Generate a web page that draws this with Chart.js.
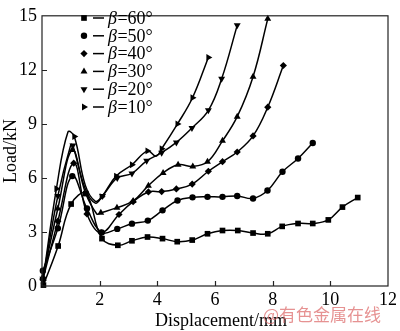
<!DOCTYPE html>
<html>
<head>
<meta charset="utf-8">
<script src="https://cdn.jsdelivr.net/npm/chart.js@4/dist/chart.umd.min.js"></script>
<style>
  html, body { margin: 0; padding: 0; background: #ffffff; }
  #wrap { width: 400px; height: 331px; }
</style>
</head>
<body>
<div id="wrap"><canvas id="c" width="400" height="331"></canvas></div>
<script>
// ---- Data ----
const xTicks = [0, 2, 4, 6, 8, 10, 12];
const yTicks = [0, 3, 6, 9, 12, 15];
const xTitle = 'Displacement/mm';
const yTitle = 'Load/kN';
const seriesAngles = ['60°', '50°', '40°', '30°', '20°', '10°'];
const watermark = '@有色金属在线';

// β = 60°
const disp60 = [0.05, 0.56, 1.01, 1.52, 2.08, 2.63, 3.12, 3.66, 4.18, 4.69, 5.21, 5.74, 6.26, 6.79, 7.32, 7.83, 8.33, 8.88, 9.39, 9.93, 10.42, 10.95];
const load60 = [0.05, 2.22, 4.55, 5.13, 2.63, 2.26, 2.51, 2.72, 2.63, 2.46, 2.55, 2.90, 3.08, 3.08, 2.94, 2.90, 3.31, 3.47, 3.47, 3.67, 4.38, 4.91];
const bare60 = [];
// β = 50°
const disp50 = [0.03, 0.55, 1.05, 1.56, 2.07, 2.61, 3.12, 3.67, 4.18, 4.70, 5.22, 5.74, 6.26, 6.77, 7.32, 7.82, 8.34, 8.88, 9.39];
const load50 = [0.85, 3.20, 6.10, 4.30, 2.97, 3.17, 3.46, 3.63, 4.20, 4.75, 4.92, 4.95, 4.95, 5.00, 4.86, 5.30, 6.34, 7.08, 7.94];
const bare50 = [];
// β = 40°
const disp40 = [0.03, 0.55, 1.10, 1.56, 2.05, 2.67, 3.16, 3.69, 4.15, 4.66, 5.21, 5.77, 6.26, 6.77, 7.32, 7.83, 8.37];
const load40 = [0.35, 3.60, 6.82, 4.00, 2.95, 3.97, 4.68, 5.22, 5.24, 5.39, 5.66, 6.37, 6.90, 7.44, 8.33, 9.93, 12.24];
const bare40 = [];
// β = 30°
const disp30 = [0.03, 0.55, 1.05, 1.50, 1.90, 2.04, 2.60, 3.16, 3.69, 4.20, 4.72, 5.23, 5.74, 6.26, 6.77, 7.32, 7.83];
const load30 = [0.50, 4.30, 7.55, 5.20, 4.00, 4.06, 4.35, 4.72, 5.57, 6.28, 6.73, 6.64, 6.90, 8.06, 9.40, 11.62, 14.83];
const bare30 = [3, 4];
// β = 20°
const disp20 = [0.03, 0.55, 1.00, 1.07, 1.50, 1.85, 2.10, 2.61, 3.12, 3.63, 4.15, 4.66, 5.20, 5.77, 6.23, 6.77];
const load20 = [0.40, 5.00, 7.85, 7.80, 5.40, 4.60, 5.00, 6.00, 6.25, 6.95, 7.40, 7.97, 8.77, 9.75, 11.50, 14.47];
const bare20 = [2, 4, 5];
// β = 10°
const disp10 = [0.03, 0.50, 0.90, 1.12, 1.50, 1.85, 2.07, 2.57, 3.12, 3.66, 3.95, 4.15, 4.70, 5.22, 5.77];
const load10 = [0.30, 5.40, 8.55, 8.30, 5.60, 4.70, 4.95, 6.10, 6.73, 7.50, 7.20, 7.62, 9.00, 10.45, 12.69];
const bare10 = [2, 4, 5, 10];

// ---- Styles ----
const serif = '"Liberation Serif", "DejaVu Serif", serif';
const marks = [
  { style: 'rect', rot: 0, r: 4 },
  { style: 'circle', rot: 0, r: 3.2 },
  { style: 'rectRot', rot: 0, r: 3.6 },
  { style: 'triangle', rot: 0, r: 4 },
  { style: 'triangle', rot: 180, r: 4 },
  { style: 'triangle', rot: 90, r: 4 }
];
const series = [
  [disp60, load60, bare60], [disp50, load50, bare50], [disp40, load40, bare40],
  [disp30, load30, bare30], [disp20, load20, bare20], [disp10, load10, bare10]
];

const datasets = series.map(([xs, ys, bare], i) => ({
  label: 'β=' + seriesAngles[i],
  data: xs.map((x, k) => ({ x: x, y: ys[k] })),
  borderColor: '#000',
  backgroundColor: '#000',
  borderWidth: 1.5,
  tension: 0.4,
  pointStyle: marks[i].style,
  rotation: marks[i].rot,
  pointRadius: ctx => bare.includes(ctx.dataIndex) ? 0 : marks[i].r,
  pointBorderWidth: 0,
  pointBackgroundColor: '#000',
  clip: false
}));

function drawMark(ctx, m, x, y) {
  const r = m.r;
  ctx.save();
  ctx.translate(x, y);
  ctx.rotate(m.rot * Math.PI / 180);
  ctx.fillStyle = '#000';
  ctx.beginPath();
  if (m.style === 'rect') {
    const s = r * Math.SQRT1_2;
    ctx.rect(-s, -s, 2 * s, 2 * s);
  } else if (m.style === 'circle') {
    ctx.arc(0, 0, r, 0, Math.PI * 2);
  } else if (m.style === 'rectRot') {
    ctx.moveTo(0, -r); ctx.lineTo(r, 0); ctx.lineTo(0, r); ctx.lineTo(-r, 0); ctx.closePath();
  } else {
    ctx.moveTo(0, -r); ctx.lineTo(r * 0.87, r * 0.5); ctx.lineTo(-r * 0.87, r * 0.5); ctx.closePath();
  }
  ctx.fill();
  ctx.restore();
}

const framePlugin = {
  id: 'frame',
  afterDraw(chart) {
    const ctx = chart.ctx;
    const a = chart.chartArea;
    const xs = chart.scales.x, ys = chart.scales.y;
    ctx.save();
    ctx.strokeStyle = '#222';
    ctx.lineWidth = 1.2;
    ctx.strokeRect(a.left, a.top, a.right - a.left, a.bottom - a.top);
    ctx.beginPath();
    xTicks.forEach(v => {
      if (v <= xs.min || v >= xs.max) return;
      const px = Math.round(xs.getPixelForValue(v)) + 0.5;
      ctx.moveTo(px, a.bottom); ctx.lineTo(px, a.bottom - 5);
    });
    yTicks.forEach(v => {
      if (v <= ys.min || v >= ys.max) return;
      const py = Math.round(ys.getPixelForValue(v)) + 0.5;
      ctx.moveTo(a.left, py); ctx.lineTo(a.left + 5, py);
    });
    ctx.stroke();

    // x-axis title (slightly right of the plot centre, as in the reference)
    ctx.fillStyle = '#000';
    ctx.font = '18px ' + serif;
    ctx.textAlign = 'center';
    ctx.textBaseline = 'middle';
    ctx.fillText(xTitle, (a.left + a.right) / 2 + 6, 321);

    // legend
    const lx = 84, ly0 = 18, dy = 17.8;
    series.forEach((s, i) => {
      const y = ly0 + i * dy;
      drawMark(ctx, marks[i], lx, y);
      ctx.strokeStyle = '#000';
      ctx.lineWidth = 1.5;
      ctx.beginPath(); ctx.moveTo(93, y); ctx.lineTo(104, y); ctx.stroke();
      ctx.fillStyle = '#000';
      ctx.textBaseline = 'middle';
      ctx.textAlign = 'left';
      ctx.font = 'italic 18px ' + serif;
      ctx.fillText('β', 108, y + 1);
      const bw = ctx.measureText('β').width;
      ctx.font = '18px ' + serif;
      ctx.fillText('=' + seriesAngles[i], 108 + bw + 0.5, y + 1);
    });

    // watermark
    ctx.font = '17px "Noto Sans CJK SC", sans-serif';
    ctx.fillStyle = 'rgba(222, 110, 110, 0.75)';
    ctx.textAlign = 'left';
    ctx.textBaseline = 'middle';
    ctx.fillText(watermark, 263, 315);
    ctx.restore();
  }
};

new Chart(document.getElementById('c'), {
  type: 'line',
  data: { datasets: datasets },
  options: {
    responsive: false,
    animation: false,
    devicePixelRatio: 1,
    layout: { padding: { top: 4, right: 7, left: 0, bottom: 0 } },
    plugins: { legend: { display: false }, tooltip: { enabled: false } },
    scales: {
      x: {
        type: 'linear', min: 0, max: 12,
        afterBuildTicks: s => { s.ticks = xTicks.map(v => ({ value: v })); },
        afterFit: s => { s.height = 45; },
        grid: { display: false, drawTicks: false },
        border: { display: false },
        ticks: {
          color: '#000', padding: 3, maxRotation: 0, autoSkip: false,
          font: { family: serif, size: 18 },
          callback: v => (v === 0 ? '' : String(v))
        },
        title: { display: false, text: xTitle }
      },
      y: {
        type: 'linear', min: 0, max: 15,
        afterBuildTicks: s => { s.ticks = yTicks.map(v => ({ value: v })); },
        afterFit: s => { s.width = 42; },
        grid: { display: false, drawTicks: false },
        border: { display: false },
        ticks: {
          color: '#000', padding: 5, autoSkip: false,
          font: { family: serif, size: 18 },
          callback: v => String(v)
        },
        title: { display: true, text: yTitle, color: '#000', font: { family: serif, size: 18 }, padding: { top: 0, bottom: 0 } }
      }
    }
  },
  plugins: [framePlugin]
});
</script>
</body>
</html>
